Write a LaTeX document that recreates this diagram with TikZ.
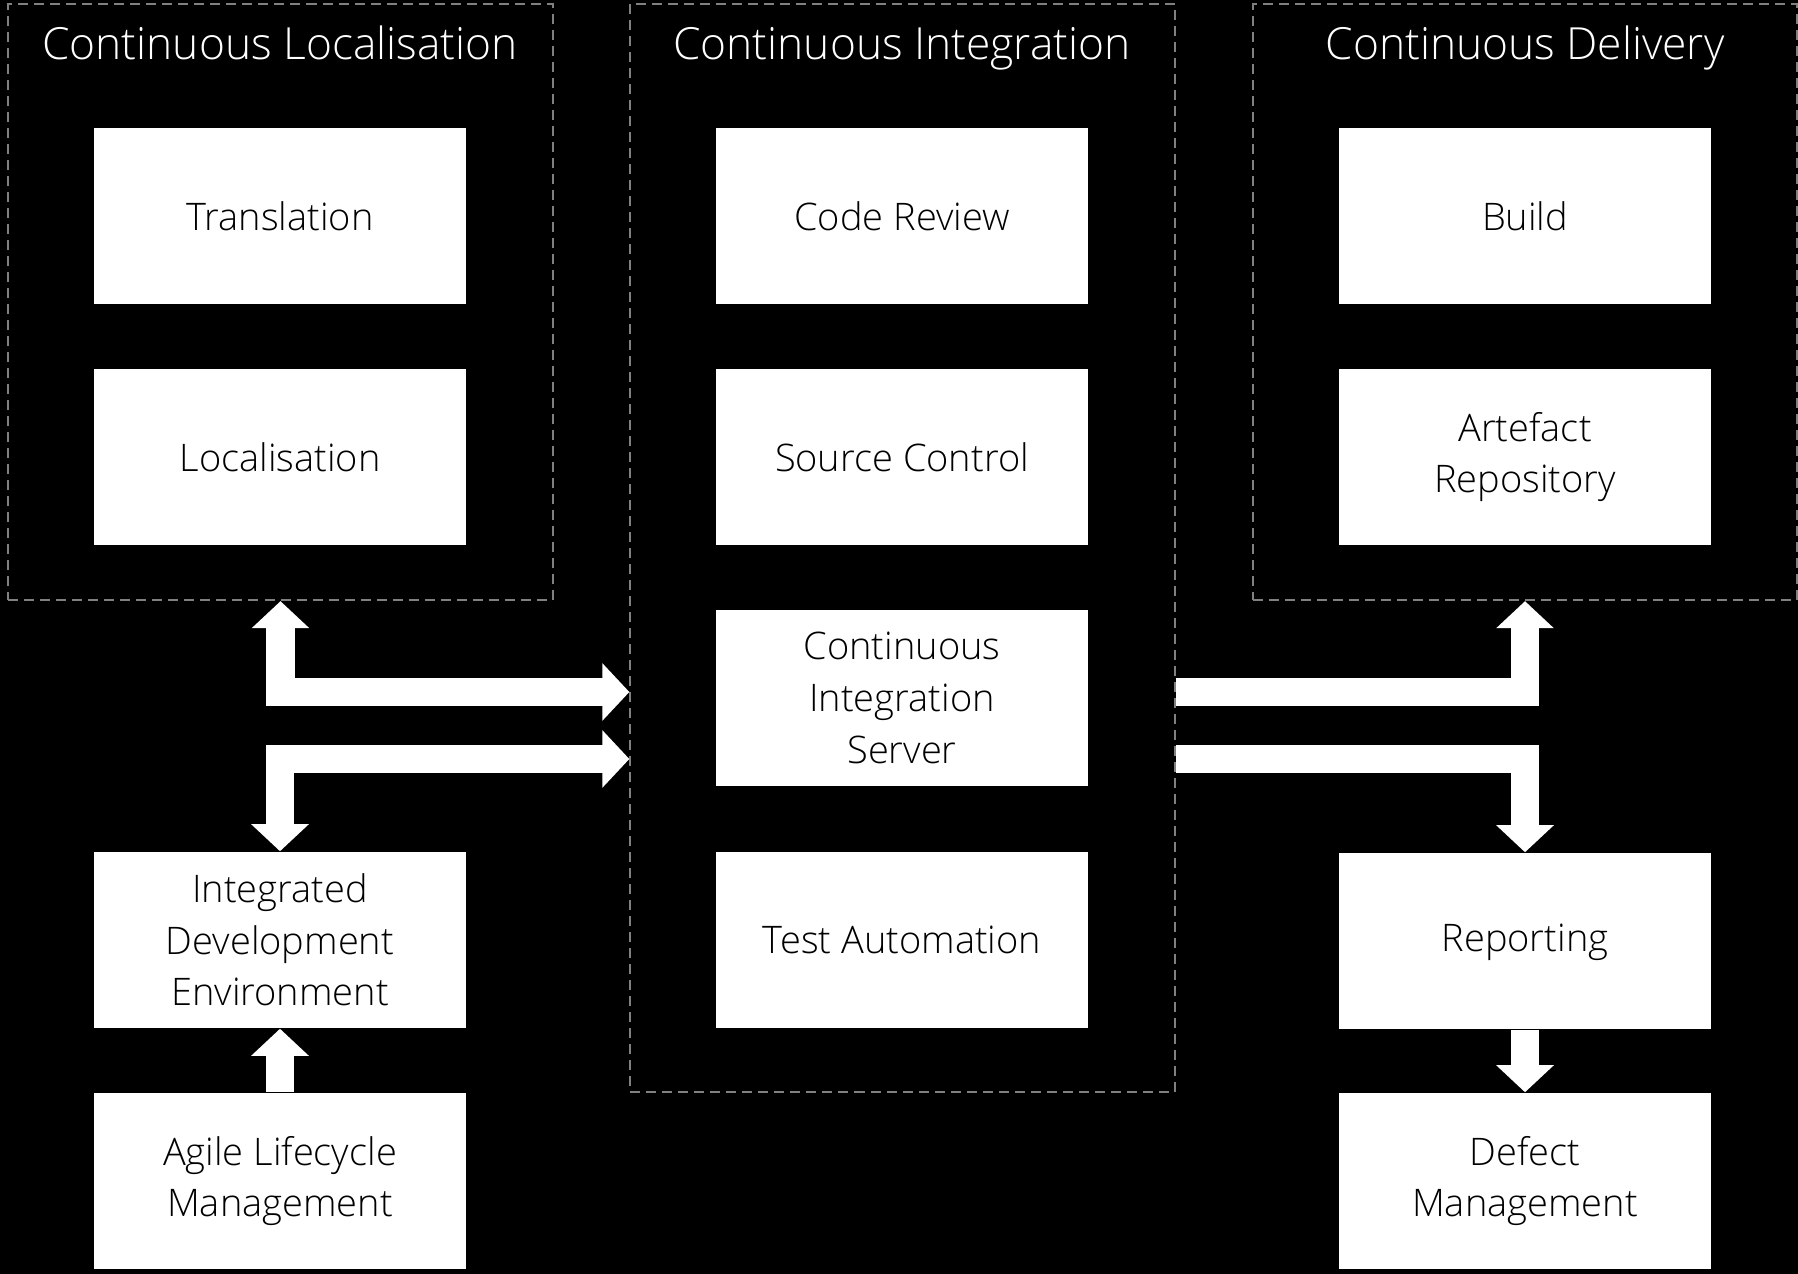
\documentclass[tikz,border=0pt]{standalone}
\usepackage{fontspec}
\setmainfont{Open Sans Light}
\usetikzlibrary{arrows.meta}

\begin{document}
\begin{tikzpicture}[x=0.01cm,y=-0.01cm,
        box/.style={fill=white,minimum width=3.72cm,minimum height=1.76cm,inner sep=0pt,align=center,font=\fontsize{10.8}{14.7}\selectfont},
        group/.style={draw=gray,dash pattern=on 0.1cm off 0.06cm,line width=0.02cm,minimum width=5.44cm,inner sep=0pt},
        title/.style={text=white,anchor=base,font=\fontsize{12.6}{14}\selectfont},
        fat/.style={white,line width=0.28cm,line join=miter},
        >={Triangle[width=0.56cm,length=0.27cm]}]
        \fill[black] (0,0) rectangle (1798,1274);
        \useasboundingbox (0,0) rectangle (1798,1274);

        \node[group,minimum height=5.96cm] (cl) at (280.5,302) {};
        \node[group,minimum height=10.88cm] (ci) at (902.5,548) {};
        \node[group,minimum height=5.96cm] (cd) at (1525,302) {};
        \node[title] (clt) at (280,60) {Continuous Localisation};
        \node[title] (cit) at (902,60) {Continuous Integration};
        \node[title] (cdt) at (1525,60) {Continuous Delivery};

        \node[box] (trans)  at ( 280, 216) {Translation};
        \node[box] (loc)    at ( 280, 457) {Localisation};
        \node[box] (ide)    at ( 280, 940) {Integrated\\Development\\Environment};
        \node[box] (alm)    at ( 280,1181) {Agile Lifecycle\\Management};
        \node[box] (review) at ( 902, 216) {Code Review};
        \node[box] (scm)    at ( 902, 457) {Source Control};
        \node[box] (server) at ( 902, 698) {Continuous\\Integration\\Server};
        \node[box] (test)   at ( 902, 940) {Test Automation};
        \node[box] (build)  at (1525, 216) {Build};
        \node[box] (repo)   at (1525, 457) {Artefact\\Repository};
        \node[box,text height=1.6ex] (report) at (1525, 941) {Reporting};
        \node[box] (defect) at (1525,1181) {Defect\\Management};

        \coordinate (hi) at (0,692);
        \coordinate (lo) at (0,759);
        \draw[fat,<->] (cl.south) |- (ci.west |- hi);
        \draw[fat,<->] (ide.north) |- (ci.west |- lo);
        \draw[fat,->] (ci.east |- hi) -| (cd.south);
        \draw[fat,->] (ci.east |- lo) -| (report.north);
        \draw[fat,->] (report.south) -- (defect.north);
        \draw[fat,->] (alm.north) -- (ide.south);
      \end{tikzpicture}
\end{document}
